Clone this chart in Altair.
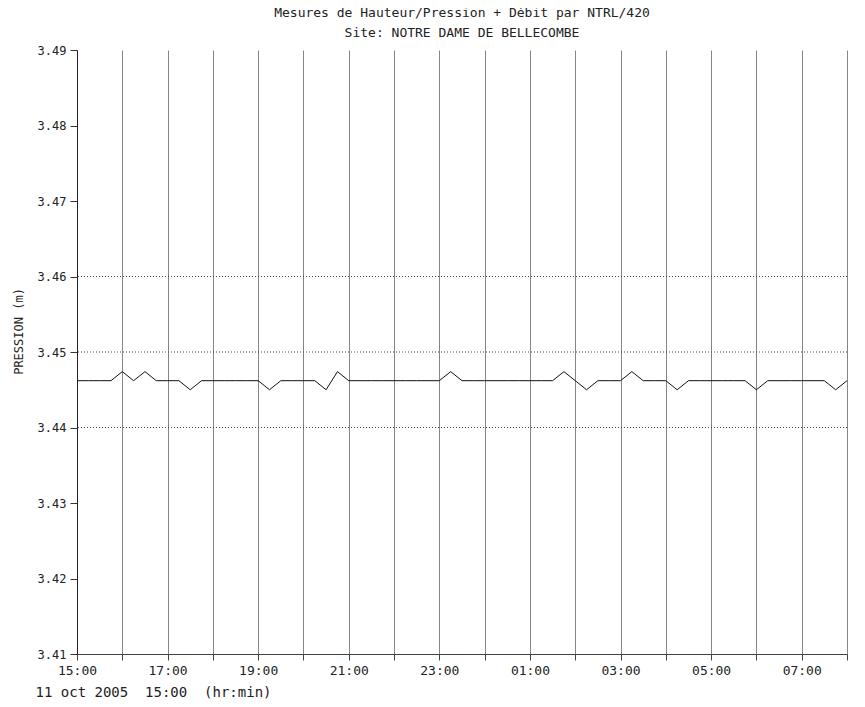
import altair as alt
import pandas as pd

# Pressure readings every 15 minutes from 11 oct 2005 15:00 to 12 oct 08:00
B, U, D = 3.4462, 3.4474, 3.4450
pressure = [
    B, B, B, B, U, B, U, B, B, B,   # 15:00 - 17:15
    D, B, B, B, B, B, B, D, B, B,   # 17:30 - 19:45
    B, B, D, U, B, B, B, B, B, B,   # 20:00 - 22:15
    B, B, B, U, B, B, B, B, B, B,   # 22:30 - 00:45
    B, B, B, U, B, D, B, B, B, U,   # 01:00 - 03:15
    B, B, B, D, B, B, B, B, B, B,   # 03:30 - 05:45
    D, B, B, B, B, B, B, D, B,      # 06:00 - 08:00
]
start_hour = 15
step_hours = 0.25
hour_ticks = list(range(0, 18))          # hours elapsed since 15:00
grid_levels = [3.44, 3.45, 3.46]
y_ticks = [3.41, 3.42, 3.43, 3.44, 3.45, 3.46, 3.47, 3.48, 3.49]

df = pd.DataFrame({"h": [i * step_hours for i in range(len(pressure))], "p": pressure})
grid_df = pd.DataFrame({"g": grid_levels})

FONT = "DejaVu Sans Mono"
INK = "#222222"

xscale = alt.Scale(domain=[0, 17], nice=False, zero=False)
yscale = alt.Scale(domain=[3.41, 3.49], nice=False, zero=False)

label_expr = (
    "datum.value % 2 == 0 ? "
    "((((15 + datum.value) % 24) < 10 ? '0' : '') + ((15 + datum.value) % 24) + ':00') : ''"
)

xaxis = alt.Axis(
    title="11\u00a0oct\u00a02005\u00a0\u00a015:00\u00a0\u00a0(hr:min)",
    values=hour_ticks,
    labelExpr=label_expr,
    grid=True, gridColor="#858585", gridWidth=1,
    domainColor="#444444", tickColor="#444444", tickSize=6,
    labelFont=FONT, labelFontSize=13, labelColor=INK, labelPadding=4,
    labelOverlap=False, labelFlush=False,
    titleFont=FONT, titleFontSize=14, titleFontWeight="normal", titleColor=INK,
    titleAnchor="start", titleAlign="left", titleBaseline="middle",
    titleX=-42, titleY=38,
)
yaxis = alt.Axis(
    title="PRESSION (m)", values=y_ticks, format=".2f", grid=False,
    domainColor="#222222", tickColor="#333333", tickSize=7,
    labelFont=FONT, labelFontSize=12, labelColor=INK, labelPadding=4,
    titleFont=FONT, titleFontSize=12, titleFontWeight="normal", titleColor=INK,
    titleAngle=270, titleAlign="center", titleBaseline="middle",
    titleX=-59, titleY=281,
)

line = alt.Chart(df).mark_line(color="#111111", strokeWidth=1).encode(
    x=alt.X("h:Q", scale=xscale, axis=xaxis),
    y=alt.Y("p:Q", scale=yscale, axis=yaxis),
)

hgrid = alt.Chart(grid_df).mark_rule(color="#444444", strokeWidth=1, strokeDash=[1, 2]).encode(
    y=alt.Y("g:Q", scale=yscale),
)

chart = alt.layer(hgrid, line).properties(
    width=770, height=604,
    autosize=alt.AutoSizeParams(type="none"),
    padding={"left": 69, "top": 42, "right": 10, "bottom": 45},
    title=alt.TitleParams(
        ["Mesures de Hauteur/Pression + Débit par NTRL/420", "Site: NOTRE DAME DE BELLECOMBE"],
        font=FONT, fontSize=13, fontWeight="normal", color=INK,
        lineHeight=20, anchor="middle", offset=4,
    ),
).configure_view(strokeWidth=0)

chart.save("out.html", embed_options={"renderer": "svg", "actions": False})
